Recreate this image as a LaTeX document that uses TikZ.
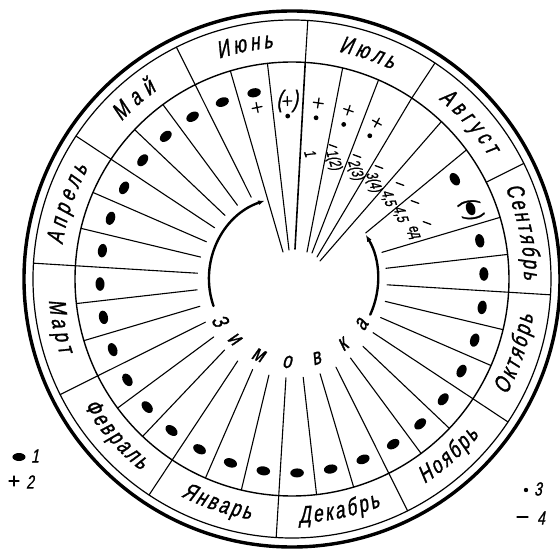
\documentclass[tikz,border=0pt]{standalone}
\usepackage{fontspec}
\setmainfont{Liberation Sans}
\newfontfamily\gost{Liberation Sans}[FakeSlant=0.2, FakeStretch=0.72, FakeBold=1.2]
\usetikzlibrary{decorations.text, arrows.meta}
\newcommand\mfont{\gost\fontsize{24}{24}\selectfont}
\newcommand\zfont{\gost\fontsize{23}{23}\selectfont}
\newcommand\lfont{\gost\fontsize{16}{16}\selectfont}
\newcommand\nfont{\gost\fontsize{19}{19}\selectfont}
\newcommand\monthcw[3]{%
  \path[decorate, decoration={text along path, text={|\mfont|#1}, text align={fit to path}}]
    ({#2+#3}:232) arc[start angle={#2+#3}, end angle={#2-#3}, radius=232];}
\newcommand\monthccw[3]{%
  \path[decorate, decoration={text along path, text={|\mfont|#1}, text align={fit to path}}]
    ({#2-#3}:244) arc[start angle={#2-#3}, end angle={#2+#3}, radius=244];}
\begin{document}
\begin{tikzpicture}[x=1pt,y=1pt,line cap=round,
  ray/.style={line width=1.1pt},
  bigdot/.style={fill=black},
  smalldot/.style={fill=black},
  plusmark/.style={line width=1.3pt},
  lab/.style={font=\lfont, inner sep=0pt, rotate=-72},
  zl/.style={font=\zfont, inner sep=0pt}]
\useasboundingbox (-292,-275) rectangle (268,279);
% circles
\draw[line width=3.4pt] (0,0) circle[radius=268];
\draw[line width=1.2pt] (0,0) circle[radius=259];
\draw[line width=1.4pt] (0,0) circle[radius=217];
% month boundaries in the ring
\foreach \k in {0,...,11} { \draw[ray] ({86.5-30*\k}:259) -- ({86.5-30*\k}:217); }
% short rays
\foreach \t in {16.5,6.5,...,-243.5} { \draw[ray] (\t:217) -- (\t:{95-4*sin(\t)}); }
% long rays
\draw[ray] (106.5:217) -- (-9,27);
\draw[ray] (96.5:217) -- (-3,29);
\draw[line width=1.6pt] (86.5:217) -- (3,30);
\draw[ray] (76.5:217) -- (15,27);
\draw[ray] (66.5:217) -- (20,26);
\draw[ray] (56.5:217) -- (25,22);
\draw[ray] (46.5:217) -- (28,18);
\draw[ray] (36.5:217) -- (32:87);
% inner arcs
\draw[line width=2.4pt, -{Latex[length=7pt,width=5pt]}] (199:83) arc[start angle=199, end angle=109, radius=83];
\draw[line width=2.4pt, -{Latex[length=7pt,width=5pt]}] (-24.5:86) arc[start angle=-24.5, end angle=31, radius=86];
% month names
\monthcw{Май}{131.5}{5.8}
\monthcw{Июнь}{101.5}{6.8}
\monthcw{Июль}{71.5}{6.9}
\monthcw{Август}{41.5}{9.3}
\monthcw{Сентябрь}{11.5}{11.7}
\monthcw{Апрель}{161.5}{10}
\monthccw{Март}{191.5}{6.5}
\monthccw{Февраль}{221.5}{10.2}
\monthccw{Январь}{251.5}{8.6}
\monthccw{Декабрь}{281.5}{9.8}
\monthccw{Ноябрь}{311.5}{8.6}
\monthccw{Октябрь}{341.5}{9.9}
% big dots
\foreach \t in {31.5,11.5,1.5,-8.5,...,-258.5} {
  \fill[bigdot, rotate=\t] ({192-2*sin(\t)},0) ellipse[x radius=4.5pt, y radius=6.8pt];
}
% bracketed dot (September)
\fill[bigdot, rotate=21.5] (192,0) ellipse[x radius=4.5pt, y radius=6.8pt];
\node[font=\mfont, rotate=-68.5, inner sep=0pt] (pb) at (21.5:192) {(\hspace{10pt})};
% June/July marks
\foreach \t in {91.5,81.5,71.5,61.5} {
  \fill[smalldot] (\t:163) circle[radius=2.4pt];
}
\foreach \t/\r in {101.5/175,81.5/178,71.5/178,61.5/178} {
  \draw[plusmark, rotate=\t-90] (0,\r) ++(-5,0) -- ++(10,0) ++(-5,-5) -- ++(0,10);
}
\begin{scope}[rotate=1.5]
\draw[plusmark] (0,178) ++(-4.5,0) -- ++(9,0) ++(-4.5,-4.5) -- ++(0,9);
\node[font=\mfont, inner sep=0pt] (pp) at (0,178) {(\hspace{10pt})};
\end{scope}
% dashes
\foreach \px/\py in {41/133,65/123,87/112,108/95,123/77,135/56} {
  \draw[line width=1.3pt] ({\px-3.8},{\py+1.4}) -- ({\px+3.8},{\py-1.4});
}
% labels
\node[lab] (l1) at (18,126) {1};
\node[lab] (l2) at (41,119) {1(2)};
\node[lab] (l3) at (63,109) {2(3)};
\node[lab] (l4) at (81,97) {3(4)};
\node[lab] (l5) at (96,81) {4,5};
\node[lab] (l6) at (108,65) {4,5};
\node[lab] (l7) at (121,47) {ед};
% wintering
\foreach \t/\c in {210/З,226/и,246/м,266.5/о,287/в,307.7/к,326.7/а} {
  \node[zl, rotate=\t+90] at (\t:83) {\c};
}
% legend
\fill[bigdot] (-273,-178) ellipse[x radius=6.5pt, y radius=4pt];
\node[font=\nfont, inner sep=0pt] (n1) at (-257,-177) {1};
\draw[plusmark] (-283,-202) -- (-273,-202) (-278,-207) -- (-278,-197);
\node[font=\nfont, inner sep=0pt] (n2) at (-262,-203) {2};
\fill[smalldot] (234,-211) circle[radius=2.2pt];
\node[font=\nfont, inner sep=0pt] (n3) at (246,-210) {3};
\draw[plusmark] (225,-238) -- (236,-238);
\node[font=\nfont, inner sep=0pt] (n4) at (249,-239) {4};
\end{tikzpicture}
\end{document}
